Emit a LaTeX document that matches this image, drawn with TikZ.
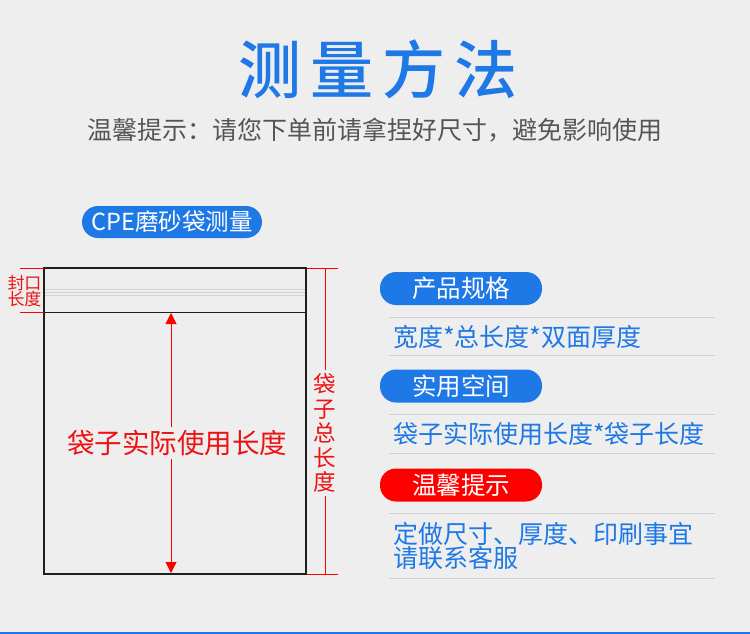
\documentclass[tikz,border=0pt]{standalone}
\usepackage{fontspec}
\setmainfont{Noto Sans CJK SC}
\newfontfamily\titlefont{Noto Sans CJK SC Medium}
\usetikzlibrary{arrows.meta}
\definecolor{bg}{HTML}{EEEEEE}
\definecolor{tblue}{HTML}{1E78E6}
\definecolor{tred}{HTML}{FF0000}
\definecolor{dred}{HTML}{EE1111}
\definecolor{gline}{HTML}{D2D2D2}
\definecolor{subgray}{HTML}{555555}
\begin{document}
\begin{tikzpicture}[x=1pt,y=-1pt,
  pill/.style={rounded corners=16pt, minimum width=162pt, minimum height=33pt, inner sep=0pt, text=white, font=\fontsize{24.5}{24.5}\selectfont},
  bluetxt/.style={text=tblue, anchor=west, inner sep=0pt, font=\fontsize{25}{25}\selectfont},
  sepline/.style={gline, line width=1pt},
  redline/.style={tred, line width=1pt},
  redtxt/.style={text=dred, inner sep=0pt}
]
\useasboundingbox (0,0) rectangle (750,634);
\fill[bg] (0,0) rectangle (750,634);
\draw[tblue, line width=1.5pt] (0,633.2) -- (750,633.2);

% title
\node[text=tblue, font=\titlefont\fontsize{63}{63}\selectfont, inner sep=0pt] (title) at (378,69) {测\hspace{9pt}量\hspace{9pt}方\hspace{9pt}法};
\node[text=subgray, font=\fontsize{25}{25}\selectfont, inner sep=0pt] (sub) at (375,130) {温馨提示：请您下单前请拿捏好尺寸，避免影响使用};

% CPE pill
\node[pill, fill=tblue, minimum width=180pt, minimum height=32pt, font=\fontsize{23.5}{23.5}\selectfont] (cpe) at (172,222) {CPE磨砂袋测量};

% bag
\draw[line width=2pt, draw=black!88] (44,268) rectangle (306,574);
\draw[line width=1pt, draw=black!88] (44,312) -- (306,312);
\foreach \yy in {289,292,295} \draw[gline, line width=0.8pt] (45,\yy) -- (305,\yy);

% left seal dimension
\draw[redline] (20,268) -- (44,268);
\draw[redline] (20,312) -- (44,312);
\node[redtxt, font=\fontsize{17}{16.5}\selectfont, align=center] (seal) at (24.5,291) {封口\\长度};

% right total dimension
\coordinate (rt) at (325,268);
\coordinate (rb) at (325,574);
\draw[redline] (307,268) -- (338,268);
\draw[redline] (307,574) -- (338,574);
\node[redtxt, font=\fontsize{22.5}{24.5}\selectfont, align=center, inner ysep=3pt] (total) at (325,433) {袋\\子\\总\\长\\度};
\draw[redline] (rt) -- (total.north);
\draw[redline] (total.south) -- (rb);

% inner arrow
\coordinate (at) at (171,313);
\coordinate (ab) at (171,573);
\draw[tred, line width=1pt, {Triangle[width=11pt,length=11pt]}-{Triangle[width=11pt,length=11pt]}] (at) -- (ab);
\node[redtxt, fill=bg, inner sep=3pt, font=\fontsize{27.5}{27.5}\selectfont] (use) at (177,443) {袋子实际使用长度};

% right panel
\node[pill, fill=tblue] (p1) at (461,288.5) {产品规格};
\draw[sepline] (389,317) -- (715,317);
\node[bluetxt] (t1) at (393,337) {宽度*总长度*双面厚度};
\draw[sepline] (389,355) -- (715,355);

\node[pill, fill=tblue] (p2) at (461,386) {实用空间};
\draw[sepline] (389,414) -- (715,414);
\node[bluetxt] (t2) at (393,434) {袋子实际使用长度*袋子长度};
\draw[sepline] (389,453) -- (715,453);

\node[pill, fill=tred] (p3) at (461,485) {温馨提示};
\draw[sepline] (389,513) -- (715,513);
\node[bluetxt, align=left, font=\fontsize{25}{23}\selectfont] (t3) at (393,546) {定做尺寸、厚度、印刷事宜\\请联系客服};
\draw[sepline] (389,578) -- (715,578);
\end{tikzpicture}
\end{document}
